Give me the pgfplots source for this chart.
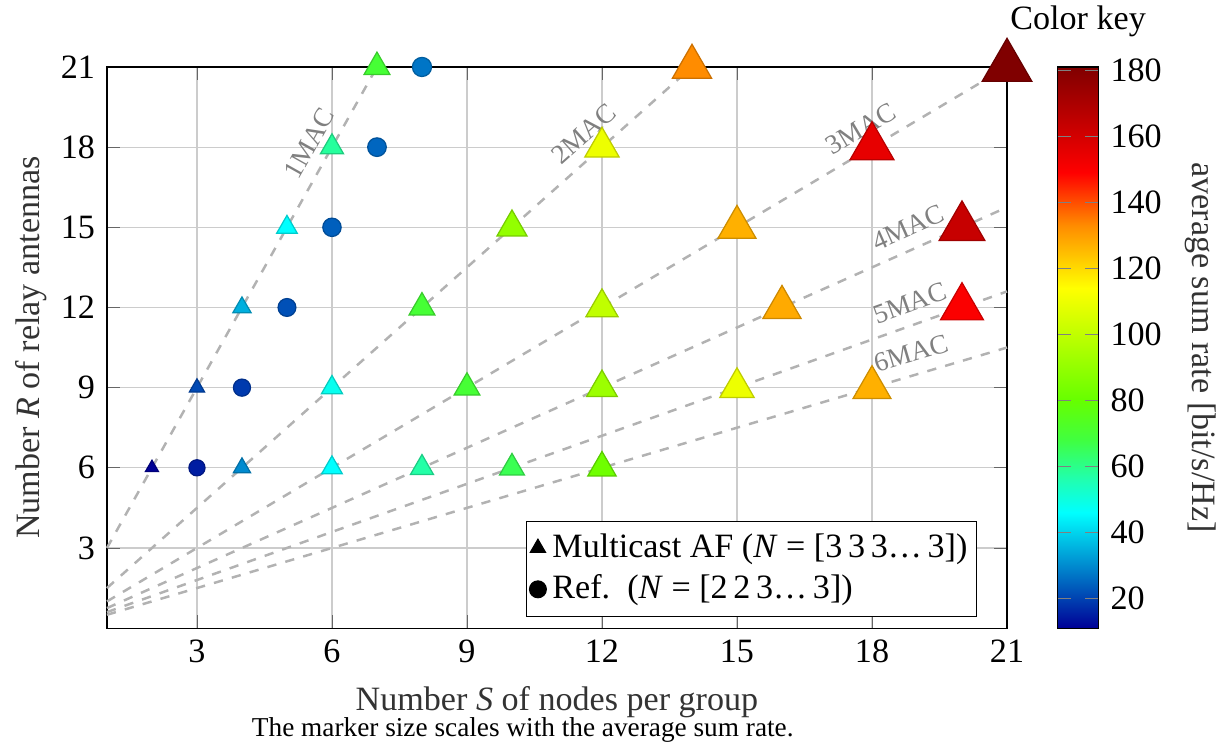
\documentclass[border=0pt]{standalone}
\usepackage{fontspec}
\setmainfont{Liberation Serif}[Scale=1.1]
\usepackage{pgfplots}
\usepackage{pgfplotstable}
\pgfplotsset{compat=1.18}
\pgfplotsset{dotlegend/.style={legend image code/.code={\draw[mark repeat=1,##1] plot coordinates {(0cm,0cm)};}}}

\pgfplotstableread{
x y r
2 6 11
3 9 21
4 6 30
4 12 35
5 15 46
6 6 46
6 9 48
6 18 58
7 21 70
8 6 57
8 12 70
9 9 70
10 6 66
10 15 90
12 6 82
12 9 92
12 12 100
12 18 110
14 21 133
15 9 110
15 15 127
16 12 128
18 9 127
18 18 155
20 12 150
20 15 163
21 21 181
}\macdata

\pgfplotstableread{
x y r
3 6 15
4 9 19
5 12 22
6 15 24
7 18 25
8 21 27
}\refdata

\begin{document}
\begin{tikzpicture}
\path[use as bounding box] (-34.5pt,-38.7pt) rectangle (359pt,202.6pt);
\begin{axis}[
  scale only axis, width=290.3pt, height=181pt,
  xmin=1, xmax=21, ymin=0, ymax=21,
  xtick={3,6,...,21}, ytick={3,6,...,21},
  /pgf/number format/assume math mode=true,
  grid=major, major grid style={black!20},
  major tick style={black!60},
  tick align=inside,
  xlabel={Number \textit{S} of nodes per group},
  ylabel={Number \textit{R} of relay antennas},
  label style={text=black!80},
  ylabel style={xshift=0pt, yshift=-3pt},
  clip=false,
  colormap={sumrate}{rgb255(0pt)=(0,0,150) rgb255(35pt)=(0,255,255) rgb255(45pt)=(32,255,176) rgb255(57pt)=(64,255,64) rgb255(69pt)=(102,255,0) rgb255(103pt)=(255,255,0) rgb255(122pt)=(255,140,0) rgb255(138pt)=(255,0,0) rgb255(170pt)=(128,0,0)},
  point meta min=11, point meta max=181,
  colorbar,
  colorbar style={
    at={(parent axis.north east)}, anchor=north west, xshift=7.8pt,
    width=13.2pt,
    ytick={20,40,...,180},
    /pgf/number format/assume math mode=true,
    yticklabel pos=right, ytick pos=both, tick align=inside,
    major tick style={black!50},
    ylabel={average sum rate [bit/s/Hz]},
    ylabel style={text=black!80, rotate=180},
    title={Color key},
  },
  legend style={at={(0.967,0.02)}, anchor=south east, draw=black, cells={anchor=west}, font=\normalsize, inner xsep=1pt},
]
\addlegendimage{only marks, mark=triangle*, mark size=2.8pt, black, dotlegend}
\addlegendentry{Multicast AF (\textit{N} = [3\,3\,3\ldots\,3])}
\addlegendimage{only marks, mark=*, mark size=2.7pt, black, dotlegend}
\addlegendentry{Ref.\ \ (\textit{N} = [2\,2\,3\ldots\,3])}

\addplot[scatter, only marks, mark=*, point meta=explicit,
  visualization depends on={\thisrow{r}/25+2 \as \msize},
  scatter/@pre marker code/.append style={/tikz/mark size=\msize pt},
  forget plot] table[x=x, y=y, meta=r] {\refdata};
\addplot[scatter, only marks, mark=triangle*, point meta=explicit,
  visualization depends on={\thisrow{r}/25+2 \as \msize},
  scatter/@pre marker code/.append style={/tikz/mark size=\msize pt},
  forget plot] table[x=x, y=y, meta=r] {\macdata};

\addplot[dashed, thick, black!30, forget plot] coordinates {(1,3) (7,21)}
  node[pos=0.82, sloped, above, font=\footnotesize, text=black!50] {1MAC};
\addplot[dashed, thick, black!30, forget plot] coordinates {(1,1.5) (14,21)}
  node[pos=0.84, sloped, above, font=\footnotesize, text=black!50] {2MAC};
\addplot[dashed, thick, black!30, forget plot] coordinates {(1,1) (21,21)}
  node[pos=0.85, sloped, above, font=\footnotesize, text=black!50] {3MAC};
\addplot[dashed, thick, black!30, forget plot] coordinates {(1,0.75) (21,15.75)}
  node[pos=0.9, sloped, above, font=\footnotesize, text=black!50] {4MAC};
\addplot[dashed, thick, black!30, forget plot] coordinates {(1,0.6) (21,12.6)}
  node[pos=0.9, sloped, above, font=\footnotesize, text=black!50] {5MAC};
\addplot[dashed, thick, black!30, forget plot] coordinates {(1,0.5) (21,10.5)}
  node[pos=0.9, sloped, above, font=\footnotesize, text=black!50] {6MAC};

\node[font=\footnotesize] at (rel axis cs:0.462,-0.182) {The marker size scales with the average sum rate.};
\end{axis}
\end{tikzpicture}
\end{document}
